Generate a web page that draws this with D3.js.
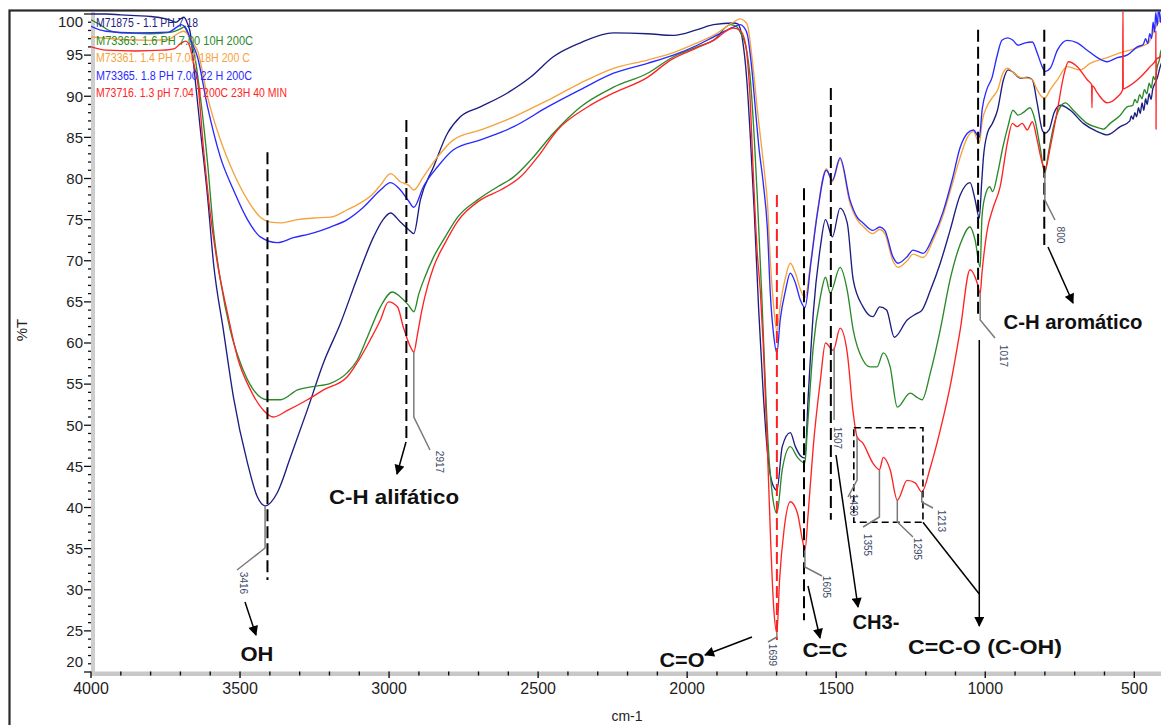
<!DOCTYPE html>
<html>
<head>
<meta charset="utf-8">
<script src="https://cdn.jsdelivr.net/npm/d3@7"></script>
<style>
  html, body { margin: 0; padding: 0; background: #fff; }
  svg { display: block; font-family: "Liberation Sans", Arial, sans-serif; }
</style>
</head>
<body>
<svg id="chart" width="1161" height="725"></svg>
<script>
// ---- FTIR spectra: [wavenumber cm-1, %T] ----
const seriesNames = [
  "M71875 - 1.1 PH 7.18",
  "M73363. 1.6 PH 7.00 10H 200C",
  "M73361. 1.4 PH 7.00 18H 200 C",
  "M73365. 1.8 PH 7.00 22 H 200C",
  "M73716. 1.3 pH 7.04 T200C 23H 40 MIN"
];

const m71875 = [
  [4000,100.0],[3950,100.0],[3900,99.9],[3850,99.8],[3800,99.7],[3760,99.5],[3730,99.2],[3715,99.0],
  [3700,99.4],[3688,99.6],[3676,98.8],[3666,97.5],[3656,94.0],[3633,85.9],[3609,77.8],[3589,69.7],
  [3556,61.6],[3522,53.4],[3475,45.4],[3442,41.3],[3416,40.2],[3375,41.8],[3331,46.1],[3274,51.9],
  [3220,57.6],[3163,62.4],[3106,68.0],[3052,72.9],[3020,75.0],[2995,75.8],[2962,74.7],[2935,73.8],
  [2917,73.3],[2895,77.4],[2851,81.4],[2804,85.5],[2761,87.5],[2694,88.7],[2603,90.4],[2526,92.3],
  [2449,94.8],[2358,96.5],[2247,97.7],[2133,97.6],[2046,97.4],[1966,98.1],[1912,98.7],[1845,98.9],
  [1830,98.8],[1815,97.0],[1800,92.0],[1788,85.0],[1775,76.0],[1760,64.0],[1745,54.0],[1730,46.5],
  [1715,43.0],[1699,42.1],[1681,47.4],[1654,49.1],[1637,47.4],[1620,46.3],[1605,46.0],[1594,53.4],
  [1577,63.6],[1553,71.7],[1536,75.0],[1513,72.9],[1487,76.4],[1463,74.6],[1443,67.7],[1410,64.4],
  [1377,63.2],[1354,64.4],[1331,64.0],[1305,60.7],[1262,62.8],[1229,63.6],[1212,64.0],[1184,66.4],
  [1151,69.7],[1118,73.7],[1084,78.0],[1051,79.5],[1034,77.4],[1020,75.2],[1012,79.5],[1006,82.6],
  [993,85.5],[976,86.7],[959,88.3],[939,92.0],[923,93.2],[906,92.9],[883,92.2],[859,92.3],
  [842,92.0],[826,89.2],[809,85.9],[800,85.5],[786,85.9],[769,88.0],[748,88.9],[715,88.3],
  [671,86.7],[624,85.7],[591,85.3],[547,86.3],[515,87.0],[510,87.6],[504,87.2],[498,88.0],
  [492,87.5],[486,88.6],[480,87.9],[474,89.2],[468,88.3],[462,89.7],[457,89.0],[450,90.3],
  [444,89.6],[438,90.9],[430,91.6],[423,92.2],[413,93.6],[405,94.4],[400,95.0]
];

const m73363 = [
  [4000,99.3],[3970,98.7],[3940,98.0],[3900,97.7],[3800,97.6],[3730,97.8],[3700,98.2],[3688,98.4],
  [3675,97.6],[3662,96.3],[3656,95.6],[3633,89.9],[3609,81.9],[3589,73.7],[3566,67.7],[3533,61.6],
  [3499,57.6],[3455,54.3],[3408,53.1],[3364,53.1],[3307,54.3],[3255,54.7],[3197,55.1],[3140,56.4],
  [3107,57.9],[3073,60.7],[3029,64.4],[2989,66.2],[2962,65.6],[2935,64.6],[2917,63.8],[2900,66.0],
  [2880,68.0],[2850,70.5],[2810,73.0],[2770,75.3],[2703,77.4],[2636,79.0],[2582,80.2],[2526,82.2],
  [2449,85.5],[2358,88.7],[2247,91.1],[2133,92.8],[2046,94.8],[1966,96.0],[1912,96.8],[1855,98.7],
  [1835,98.5],[1822,97.8],[1800,95.5],[1788,92.0],[1775,85.0],[1765,78.0],[1750,66.0],[1740,57.0],
  [1728,47.5],[1714,41.5],[1699,39.3],[1681,44.6],[1654,47.4],[1630,46.1],[1605,45.4],[1597,49.4],
  [1577,59.5],[1553,65.6],[1536,68.0],[1520,66.1],[1487,69.2],[1463,66.4],[1443,61.6],[1410,57.9],
  [1386,57.1],[1363,57.1],[1342,58.8],[1319,57.1],[1295,52.2],[1252,53.9],[1229,53.4],[1212,53.1],
  [1184,56.4],[1151,61.6],[1118,67.7],[1084,72.0],[1051,74.1],[1034,72.5],[1017,69.2],[1011,75.3],
  [1001,77.8],[985,79.0],[975,78.4],[958,80.7],[941,83.8],[924,86.3],[907,88.3],[890,87.7],
  [873,88.0],[850,88.6],[833,87.1],[816,83.8],[800,80.7],[788,83.1],[771,86.3],[748,88.7],
  [731,89.2],[705,88.3],[658,86.7],[614,86.1],[604,86.0],[581,86.7],[547,87.7],[524,88.7],
  [505,88.9],[498,89.6],[490,89.2],[482,90.2],[474,89.7],[466,90.8],[458,90.3],[450,91.6],
  [443,91.0],[436,92.4],[430,92.0],[423,93.6],[416,94.4],[410,95.6],[405,95.2],[400,96.2]
];

const m73361 = [
  [4000,97.2],[3900,96.9],[3800,96.8],[3740,96.9],[3710,97.6],[3690,97.9],[3672,97.4],[3658,96.5],
  [3643,95.6],[3609,89.9],[3566,84.7],[3522,80.7],[3475,77.4],[3432,75.3],[3398,74.7],[3364,74.6],
  [3307,75.0],[3253,75.2],[3197,75.3],[3140,76.2],[3107,76.8],[3052,78.2],[3029,79.2],[2995,80.6],
  [2962,79.6],[2935,79.2],[2917,78.6],[2885,80.2],[2838,82.6],[2784,84.7],[2693,85.9],[2582,87.5],
  [2468,89.5],[2358,91.6],[2247,93.4],[2133,94.4],[2046,95.3],[1966,96.5],[1912,97.4],[1845,99.0],
  [1822,99.4],[1810,99.2],[1798,98.7],[1785,95.5],[1778,93.3],[1765,88.5],[1755,85.3],[1740,80.5],
  [1731,77.2],[1721,70.0],[1710,64.5],[1699,61.5],[1688,64.5],[1670,68.0],[1654,69.7],[1637,68.5],
  [1620,66.5],[1605,65.5],[1585,70.0],[1563,76.0],[1533,81.2],[1513,79.6],[1487,82.3],[1454,77.0],
  [1430,75.0],[1410,74.2],[1377,73.3],[1354,73.8],[1337,73.3],[1310,70.0],[1293,69.2],[1262,70.0],
  [1242,70.8],[1208,70.4],[1175,72.5],[1141,75.6],[1110,79.4],[1084,82.6],[1060,85.0],[1040,85.7],
  [1020,84.3],[1010,87.0],[995,88.7],[975,89.9],[958,90.8],[941,92.8],[924,93.4],[907,92.9],
  [883,92.3],[859,92.2],[842,92.0],[826,90.8],[809,89.9],[800,89.8],[782,90.8],[758,92.0],
  [725,93.6],[681,93.2],[648,94.0],[591,94.7],[537,95.4],[480,96.0],[450,96.6],[437,97.7],
  [425,98.6],[413,99.3],[400,100.0]
];

const m73365 = [
  [4000,98.5],[3950,97.9],[3850,97.7],[3740,97.8],[3712,98.4],[3698,98.7],[3682,98.3],[3665,96.8],
  [3643,94.8],[3609,88.7],[3566,82.6],[3522,78.6],[3475,75.0],[3432,72.9],[3375,72.2],[3321,72.8],
  [3253,73.4],[3197,74.1],[3140,75.0],[3086,76.5],[3029,78.6],[2995,79.5],[2962,78.6],[2935,77.3],
  [2917,76.5],[2885,79.0],[2838,81.4],[2784,83.5],[2693,84.7],[2582,86.3],[2468,88.7],[2358,90.8],
  [2247,92.8],[2133,94.0],[2046,95.0],[1966,96.2],[1912,97.2],[1845,98.4],[1822,98.7],[1810,98.4],
  [1798,97.5],[1785,94.0],[1770,88.0],[1760,84.0],[1745,79.5],[1731,74.0],[1721,66.0],[1710,61.0],
  [1699,58.8],[1688,62.8],[1670,66.4],[1654,68.5],[1637,67.3],[1620,65.2],[1605,64.3],[1585,69.7],
  [1563,75.8],[1533,81.0],[1513,79.8],[1487,82.5],[1454,77.4],[1430,75.3],[1410,74.6],[1377,73.7],
  [1354,74.1],[1337,73.7],[1310,70.5],[1293,69.7],[1262,70.5],[1242,71.3],[1208,70.9],[1175,72.9],
  [1141,76.0],[1110,80.0],[1084,83.8],[1060,85.5],[1040,85.9],[1020,85.0],[1010,88.5],[995,90.8],
  [977,92.3],[961,94.8],[944,96.8],[924,97.1],[907,96.8],[890,96.2],[866,96.5],[842,96.6],
  [826,95.3],[809,93.6],[800,93.0],[782,93.4],[758,95.6],[725,96.8],[691,96.5],[658,95.6],
  [624,94.7],[591,94.2],[557,94.7],[524,95.0],[490,96.0],[470,96.3],[462,97.0],[455,96.4],
  [448,97.6],[442,97.0],[437,99.0],[432,97.8],[428,100.2],[423,98.6],[418,100.8],[412,99.0],
  [406,101.0],[400,100.5]
];

const m73716 = [
  [4000,96.0],[3950,95.6],[3850,95.5],[3760,95.6],[3720,95.8],[3700,96.4],[3682,96.7],[3668,96.0],
  [3656,94.0],[3643,92.0],[3623,83.8],[3600,75.8],[3576,69.7],[3542,63.6],[3509,58.3],[3465,54.3],
  [3421,51.8],[3388,51.0],[3341,51.8],[3274,53.1],[3220,54.3],[3140,55.9],[3107,57.6],[3063,60.4],
  [3029,62.8],[3002,65.0],[2972,64.4],[2952,61.9],[2928,59.5],[2917,58.9],[2905,61.0],[2890,64.0],
  [2870,67.0],[2850,69.3],[2810,72.3],[2770,74.8],[2693,77.4],[2626,78.6],[2559,80.2],[2502,82.6],
  [2435,85.9],[2334,88.7],[2247,90.4],[2133,92.3],[2056,94.4],[1966,95.9],[1912,96.8],[1845,98.3],
  [1822,98.0],[1805,96.5],[1790,90.5],[1778,80.5],[1765,71.0],[1755,66.5],[1745,60.0],[1731,47.4],
  [1720,36.0],[1710,28.0],[1699,24.8],[1690,31.2],[1675,37.3],[1654,40.7],[1630,39.3],[1613,36.0],
  [1605,34.8],[1594,39.3],[1577,47.4],[1553,55.5],[1536,60.0],[1510,59.1],[1487,61.8],[1463,58.8],
  [1443,51.5],[1430,48.6],[1410,47.8],[1377,45.4],[1355,44.6],[1342,46.1],[1319,44.6],[1295,40.9],
  [1262,43.3],[1235,43.0],[1213,41.9],[1184,44.9],[1151,49.4],[1118,54.7],[1084,61.6],[1051,68.9],
  [1027,67.3],[1017,66.0],[1011,68.5],[995,73.4],[973,76.5],[950,79.0],[926,84.3],[909,86.7],
  [893,86.3],[876,86.7],[859,85.9],[842,86.9],[826,84.7],[809,81.9],[800,81.0],[782,83.8],
  [758,88.3],[738,92.3],[721,94.2],[691,93.6],[658,92.0],[643,91.4],[642,88.6],[641,91.3],
  [624,90.4],[591,89.2],[557,89.9],[539,90.8],[538,101.0],[537,90.9],[524,91.1],[480,92.3],
  [447,93.6],[428,94.4],[427.5,98.0],[427,86.0],[426.5,94.5],[413,94.8],[400,96.0]
];

const seriesData = [m71875, m73363, m73361, m73365, m73716];
const seriesColors = ["#1d1d82", "#2a8a2a", "#f5a33e", "#2a2aff", "#ff2424"];

// axis ticks
const xMajorTicks = [4000, 3500, 3000, 2500, 2000, 1500, 1000, 500];
const yMajorTicks = [20, 25, 30, 35, 40, 45, 50, 55, 60, 65, 70, 75, 80, 85, 90, 95, 100];

// band assignments and labelled peaks
const peakWavenumbers = [3416, 2917, 1699, 1605, 1507, 1430, 1355, 1295, 1213, 1017, 800];
const peakSeries      = [0, 4, 4, 4, 4, 4, 4, 4, 4, 4, 1];
const bandLabels = ["OH", "C-H alifático", "C=O", "C=C", "CH3-", "C=C-O (C-OH)", "C-H aromático"];

// ---------------------------------------------------------------
const svg = d3.select("#chart");
const x = d3.scaleLinear().domain([4000, 400]).range([91, 1164.1]);
const y = d3.scaleLinear().domain([20, 100]).range([672, 14]);

function valueAt(series, wn) {
  for (let i = 0; i < series.length - 1; i++) {
    const a = series[i], b = series[i + 1];
    if (wn <= a[0] && wn >= b[0]) {
      const t = (a[0] - wn) / (a[0] - b[0]);
      return a[1] + t * (b[1] - a[1]);
    }
  }
  return series[series.length - 1][1];
}

// outer frame
svg.append("rect").attr("x", 9.5).attr("y", 10.5).attr("width", 1250).attr("height", 800)
  .attr("fill", "none").attr("stroke", "#2a2a2a").attr("stroke-width", 2.2);

// axis bars
svg.append("rect").attr("x", 91).attr("y", 671.5).attr("width", 1080).attr("height", 4.5).attr("fill", "#c8c8c8");
svg.append("rect").attr("x", 91).attr("y", 12).attr("width", 4).attr("height", 664).attr("fill", "#cdcdcd");

// x ticks
const xMinor = d3.range(4000, 399, -100);
svg.append("g").selectAll("line").data(xMinor).join("line")
  .attr("x1", d => x(d)).attr("x2", d => x(d))
  .attr("y1", 671.5).attr("y2", d => xMajorTicks.includes(d) ? 678 : 675.5)
  .attr("stroke", "#111").attr("stroke-width", 1.4);
svg.append("g").selectAll("text").data(xMajorTicks).join("text")
  .attr("x", d => x(d)).attr("y", 694)
  .attr("text-anchor", "middle").attr("font-size", 16).attr("fill", "#1e1e1e")
  .text(d => d);

// y ticks
const yMinor = d3.range(20, 100.01, 1);
svg.append("g").selectAll("line").data(yMinor).join("line")
  .attr("x1", d => yMajorTicks.includes(d) ? 84 : 88).attr("x2", 91)
  .attr("y1", d => y(d)).attr("y2", d => y(d))
  .attr("stroke", "#111").attr("stroke-width", 1.3);
svg.append("g").selectAll("text").data(yMajorTicks).join("text")
  .attr("x", 83)
  .attr("y", d => (d === 100 ? y(d) + 7.5 : d === 20 ? y(d) - 10 : y(d)) + 5.3)
  .attr("text-anchor", "end").attr("font-size", 15).attr("fill", "#1e1e1e")
  .text(d => d);

// axis titles
svg.append("text").attr("transform", "translate(27,330) rotate(-90)")
  .attr("text-anchor", "middle").attr("font-size", 15).attr("fill", "#222").text("%T");
svg.append("text").attr("x", 627).attr("y", 721)
  .attr("text-anchor", "middle").attr("font-size", 14).attr("fill", "#222").text("cm-1");

// spectra
svg.append("defs").append("clipPath").attr("id", "plotClip")
  .append("rect").attr("x", 91).attr("y", 11.5).attr("width", 1075).attr("height", 661);

const line = d3.line().x(d => x(d[0])).y(d => y(d[1])).curve(d3.curveMonotoneX);
svg.append("g").attr("clip-path", "url(#plotClip)")
  .selectAll("path").data(seriesData).join("path")
  .attr("d", line).attr("fill", "none")
  .attr("stroke", (d, i) => seriesColors[i]).attr("stroke-width", 1.35)
  .attr("stroke-linejoin", "round");

// legend
const legendWidths = [102, 157, 154, 156, 191];
svg.append("g").selectAll("text").data(seriesNames).join("text")
  .attr("x", 96).attr("y", (d, i) => 27 + i * 17.5)
  .attr("font-size", 12.5).attr("fill", (d, i) => seriesColors[i])
  .attr("textLength", (d, i) => legendWidths[i]).attr("lengthAdjust", "spacingAndGlyphs")
  .text(d => d);

// ---- annotations ----
const ann = svg.append("g");

// dashed guide lines
const guides = [
  { wn: 3408, t0: 83.2, t1: 31.2, c: "#000" },
  { wn: 2942, t0: 87.1, t1: 48.2, c: "#000" },
  { wn: 1699, t0: 78.0, t1: 23.9, c: "#ff2020" },
  { wn: 1608, t0: 78.8, t1: 26.3, c: "#000" },
  { wn: 1518, t0: 91.0, t1: 38.5, c: "#000" },
  { wn: 1024, t0: 98.1, t1: 63.0, c: "#000" },
  { wn: 802,  t0: 98.1, t1: 71.9, c: "#000" }
];
ann.selectAll("line.guide").data(guides).join("line").attr("class", "guide")
  .attr("x1", d => x(d.wn)).attr("x2", d => x(d.wn))
  .attr("y1", d => y(d.t0)).attr("y2", d => y(d.t1))
  .attr("stroke", d => d.c).attr("stroke-width", 2).attr("stroke-dasharray", "12,5");

// dashed box around the C-O region
ann.append("rect")
  .attr("x", x(1441)).attr("y", y(49.7))
  .attr("width", x(1209) - x(1441)).attr("height", y(38.2) - y(49.7))
  .attr("fill", "none").attr("stroke", "#000").attr("stroke-width", 1.6).attr("stroke-dasharray", "7,4");

// peak leaders and values
const leaderGeom = [
  { elbow: 548, end: [237, 570], lab: [244, 583] },
  { elbow: 417, end: [430, 450], lab: [440, 462] },
  { elbow: 637, end: [768, 642], lab: [773, 655] },
  { elbow: 567, end: [822, 576], lab: [827, 587] },
  { elbow: 420, end: null,       lab: [838, 438] },
  { elbow: 480, end: [848, 497], lab: [854, 505] },
  { elbow: 517, end: [863, 527], lab: [868, 545] },
  { elbow: 522, end: [913, 537], lab: [918, 549] },
  { elbow: 502, end: [933, 508], lab: [942, 521] },
  { elbow: 320, end: [995, 338], lab: [1004, 356] },
  { elbow: 200, end: [1055, 220], lab: [1061, 235] }
];
peakWavenumbers.forEach((wn, i) => {
  const g = leaderGeom[i];
  const sx = x(wn), sy = y(valueAt(seriesData[peakSeries[i]], wn));
  const pts = [[sx, sy], [sx, g.elbow]];
  if (g.end) pts.push(g.end);
  ann.append("path").attr("d", d3.line()(pts)).attr("fill", "none")
    .attr("stroke", "#7a7a7a").attr("stroke-width", 1.5);
  ann.append("text")
    .attr("transform", `translate(${g.lab[0]},${g.lab[1]}) rotate(90)`)
    .attr("text-anchor", "middle").attr("dy", "0.35em")
    .attr("font-size", 11).attr("fill", "#3d4a66")
    .attr("textLength", String(wn).length * 5.6).attr("lengthAdjust", "spacingAndGlyphs")
    .text(wn);
});

// arrows
const defs = svg.select("defs");
defs.append("marker").attr("id", "head").attr("viewBox", "0 0 10 10")
  .attr("refX", 9).attr("refY", 5).attr("markerWidth", 11).attr("markerHeight", 10)
  .attr("markerUnits", "userSpaceOnUse").attr("orient", "auto")
  .append("path").attr("d", "M0,0 L10,5 L0,10 z").attr("fill", "#000");

const arrows = [
  { from: [245, 602], to: [256, 635], head: true },
  { from: [406, 442], to: [397, 474], head: true },
  { from: [752, 637], to: [705, 655], head: true },
  { from: [808, 586], to: [820, 638], head: true },
  { from: [836, 455], to: [858, 607], head: true },
  { from: [x(1020), 340], to: [x(1020), 626], head: true },
  { from: [x(1209), y(38.2)], to: [x(1020), 594], head: false },
  { from: [1048, 247], to: [1073, 303], head: true }
];
ann.selectAll("line.arrow").data(arrows).join("line").attr("class", "arrow")
  .attr("x1", d => d.from[0]).attr("y1", d => d.from[1])
  .attr("x2", d => d.to[0]).attr("y2", d => d.to[1])
  .attr("stroke", "#000").attr("stroke-width", 1.5)
  .attr("marker-end", d => d.head ? "url(#head)" : null);

// band names
const bandPos = [[257, 661, 33], [394, 504, 130], [682, 667, 45], [825, 657, 45],
                 [876, 629, 47], [985, 654, 154], [1073, 329, 139]];
ann.selectAll("text.band").data(bandLabels).join("text").attr("class", "band")
  .attr("x", (d, i) => bandPos[i][0]).attr("y", (d, i) => bandPos[i][1])
  .attr("text-anchor", "middle").attr("font-size", 20).attr("font-weight", "bold")
  .attr("fill", "#111")
  .attr("textLength", (d, i) => bandPos[i][2]).attr("lengthAdjust", "spacingAndGlyphs")
  .text(d => d);
</script>
</body>
</html>
